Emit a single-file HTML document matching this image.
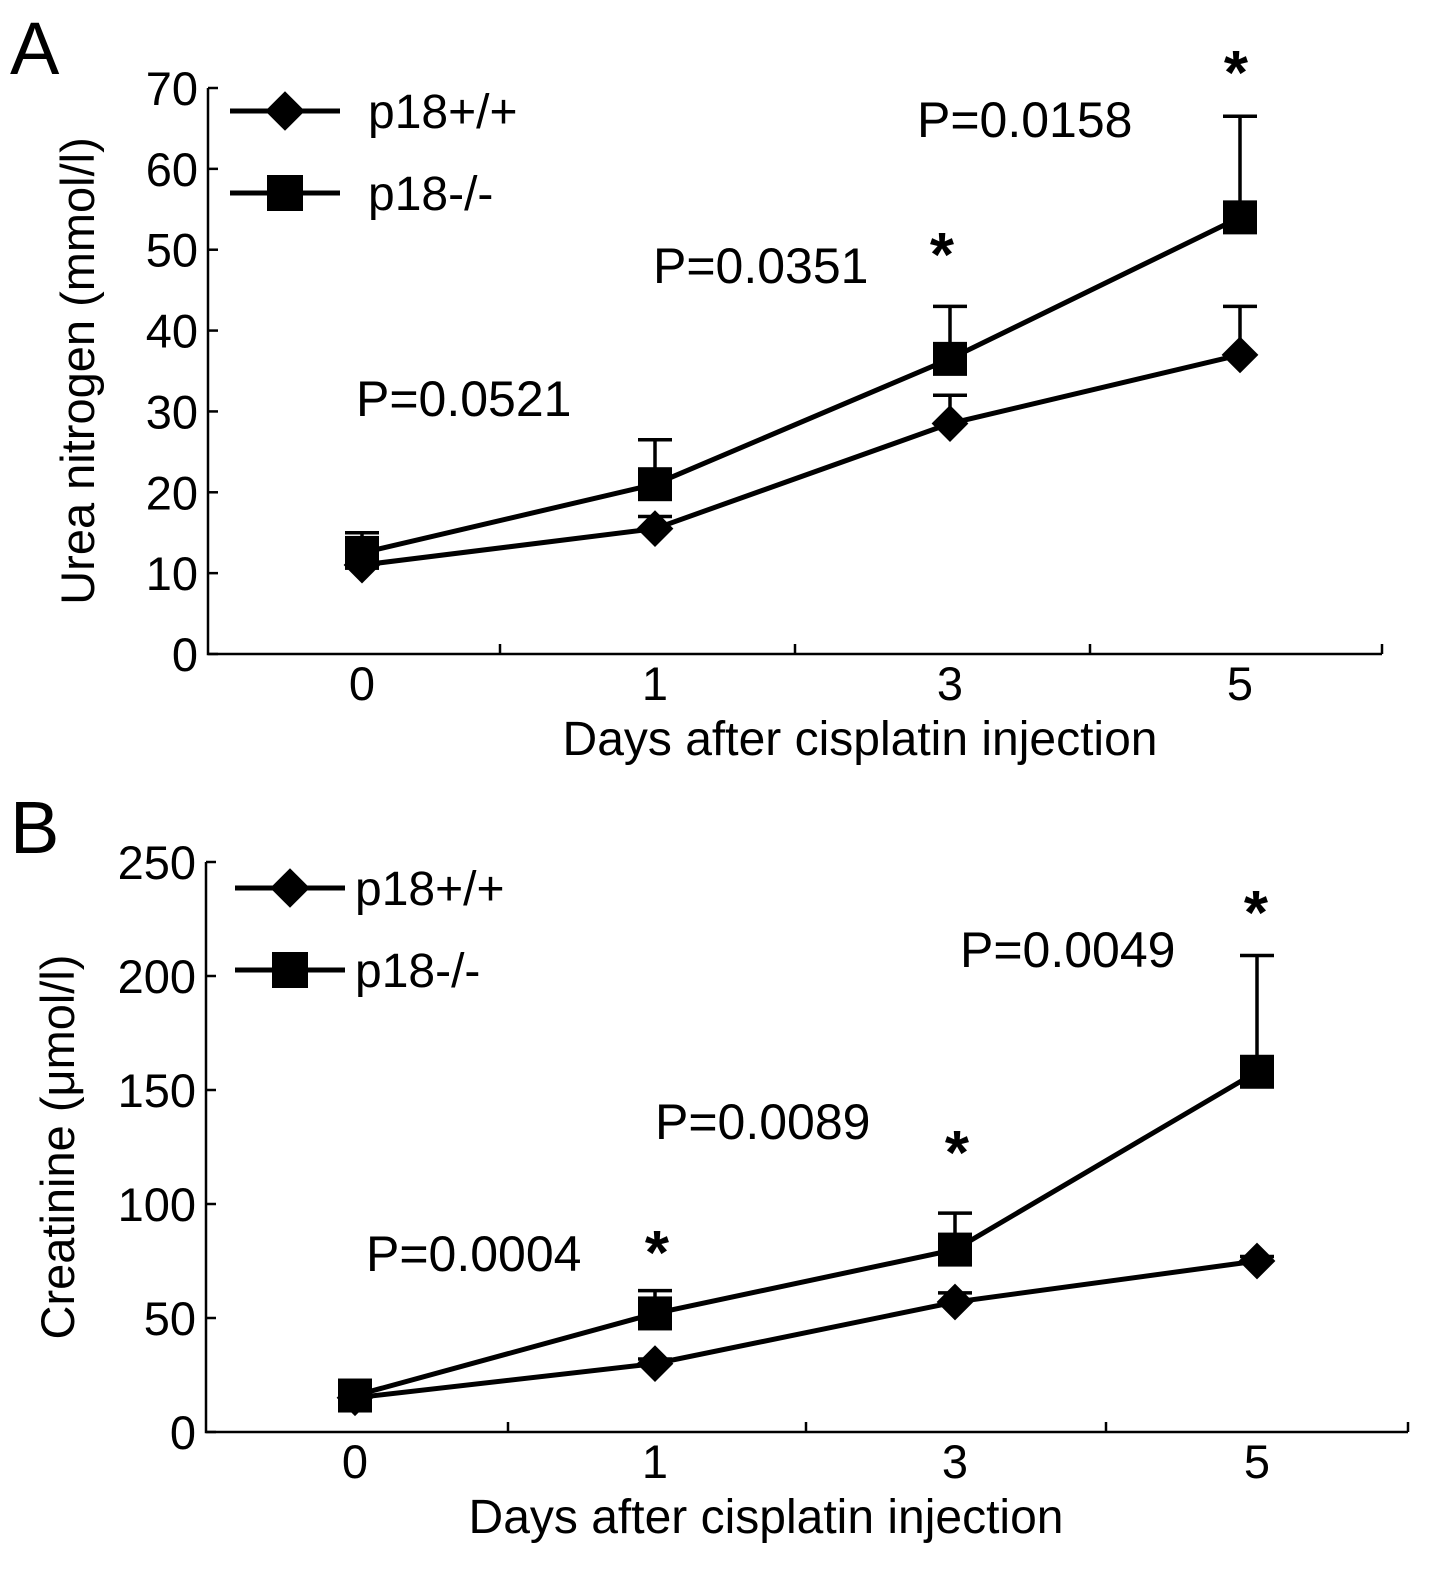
<!DOCTYPE html>
<html><head><meta charset="utf-8"><style>
body{margin:0;background:#fff}
svg{display:block;font-family:"Liberation Sans",Arial,sans-serif}
</style></head><body>
<svg id="chart" width="1441" height="1585" viewBox="0 0 1441 1585"></svg>
<script>
const days=["0","1","3","5"];
const aWT=[11,15.5,28.5,37];
const aWTerr=[1,1.5,3.5,6];
const aKO=[12.5,21,36.5,54];
const aKOerr=[2.5,5.5,6.5,12.5];
const aTicks=[0,10,20,30,40,50,60,70];
const aP=["P=0.0521","P=0.0351","P=0.0158"];
const bWT=[15,30,57,75];
const bWTerr=[1,2,4,2];
const bKO=[16,52,80,158];
const bKOerr=[2,10,16,51];
const bTicks=[0,50,100,150,200,250];
const bP=["P=0.0004","P=0.0089","P=0.0049"];

const svg=document.getElementById('chart');
const NS="http://www.w3.org/2000/svg";
function mk(tag,attrs,parent,text){const e=document.createElementNS(NS,tag);for(const k in attrs)e.setAttribute(k,attrs[k]);if(text!==undefined)e.textContent=text;(parent||svg).appendChild(e);return e;}

function panel(o){
  const g=mk('g',{});
  
  
  const y=v=>o.y0-(v-o.ymin)/(o.ymax-o.ymin)*(o.y0-o.y1);
  const x=i=>o.xc[i];
  const ax=mk('path',{d:`M${o.ax} ${o.y1} V${o.y0} H${o.axEnd}`,stroke:'#000','stroke-width':2.5,fill:'none'},g);
  
  o.ticks.forEach(t=>{
    mk('line',{x1:o.ax,x2:o.ax+10,y1:y(t),y2:y(t),stroke:'#000','stroke-width':2.5},g);
    const tl=mk('text',{x:o.ax-10,y:y(t)+17,'text-anchor':'end','font-size':47},g,t);
    
  });
  o.minor.forEach(mx=>mk('line',{x1:mx,x2:mx,y1:o.y0,y2:o.y0-10,stroke:'#000','stroke-width':2.5},g));
  days.forEach((d,i)=>{const tl=mk('text',{x:x(i),y:o.y0+46,'text-anchor':'middle','font-size':47},g,d);
    });
  const xt=mk('text',{x:o.xtx,y:o.y0+101,'text-anchor':'middle','font-size':48},g,'Days after cisplatin injection');
  
  const yt=mk('text',{x:0,y:0,'text-anchor':'middle','font-size':47,transform:`translate(${o.ytx},${(o.y0+o.y1)/2}) rotate(-90)`},g,o.ytitle);
  
  function err(vals,errs){vals.forEach((v,i)=>{const top=y(v+errs[i]);
    mk('line',{x1:x(i),x2:x(i),y1:y(v),y2:top,stroke:'#000','stroke-width':3.5},g);
    mk('line',{x1:x(i)-17,x2:x(i)+17,y1:top,y2:top,stroke:'#000','stroke-width':3.5},g);});}
  err(o.ko,o.koErr);err(o.wt,o.wtErr);
  function line(vals,name){const l=mk('polyline',{points:vals.map((v,i)=>x(i)+','+y(v)).join(' '),fill:'none',stroke:'#000','stroke-width':5},g);
    }
  line(o.wt,'p18-wt-line');line(o.ko,'p18-ko-line');
  o.wt.forEach((v,i)=>{const d=mk('rect',{x:x(i)-13,y:y(v)-13,width:26,height:26,transform:`rotate(45 ${x(i)} ${y(v)})`,fill:'#000'},g);
    });
  o.ko.forEach((v,i)=>{const s=mk('rect',{x:x(i)-17,y:y(v)-17,width:34,height:34,fill:'#000'},g);
    });
  const lg=mk('g',{},g);
  mk('line',{x1:o.lx,x2:o.lx+o.lw,y1:o.ly,y2:o.ly,stroke:'#000','stroke-width':5},lg);
  mk('rect',{x:o.lx+o.lw/2-14,y:o.ly-14,width:28,height:28,transform:`rotate(45 ${o.lx+o.lw/2} ${o.ly})`,fill:'#000'},lg);
  mk('text',{x:o.ltx,y:o.ly+17,'font-size':48},lg,'p18+/+');
  mk('line',{x1:o.lx,x2:o.lx+o.lw,y1:o.ly+82,y2:o.ly+82,stroke:'#000','stroke-width':5},lg);
  mk('rect',{x:o.lx+o.lw/2-18,y:o.ly+64,width:36,height:36,fill:'#000'},lg);
  mk('text',{x:o.ltx,y:o.ly+99,'font-size':48},lg,'p18-/-');
  o.pv.forEach((p,i)=>{const t=mk('text',{x:o.ppos[i][0],y:o.ppos[i][1],'font-size':50},g,p);
    });
  o.stars.forEach(s=>{const t=mk('text',{x:s[0],y:s[1],'text-anchor':'middle','font-size':62,'font-weight':'bold'},g,'*');
    });
  const lb=mk('text',{x:o.label[0],y:o.label[1],'font-size':74},g,o.labelText);
  
}
panel({name:'panel-a',ymin:0,ymax:70,y0:654,y1:88,ax:208,axEnd:1382,xc:[362,655,950,1240],minor:[500,795,1090,1382],
  ticks:aTicks,wt:aWT,wtErr:aWTerr,ko:aKO,koErr:aKOerr,ytitle:'Urea nitrogen (mmol/l)',ytx:94,xtx:860,
  lx:230,lw:110,ly:111,ltx:368,pv:aP,ppos:[[356,416],[653,283],[917,137]],stars:[[942,276],[1236,94]],label:[10,74],labelText:'A'});
panel({name:'panel-b',ymin:0,ymax:250,y0:1432,y1:862,ax:206,axEnd:1408,xc:[355,655,955,1257],minor:[508,806,1106,1408],
  ticks:bTicks,wt:bWT,wtErr:bWTerr,ko:bKO,koErr:bKOerr,ytitle:'Creatinine (μmol/l)',ytx:74,xtx:766,
  lx:235,lw:110,ly:888,ltx:355,pv:bP,ppos:[[366,1271],[655,1139],[960,967]],stars:[[657,1274],[957,1174],[1256,934]],label:[10,853],labelText:'B'});
</script>
</body></html>
